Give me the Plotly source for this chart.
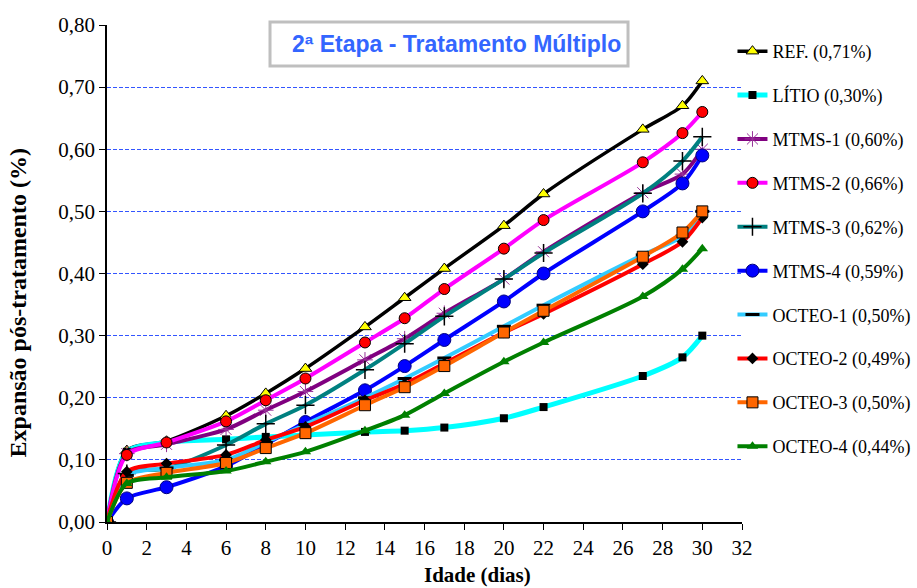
import plotly.graph_objects as go

# Ages (days) at which expansion was measured
idade = [0, 1, 3, 6, 8, 10, 13, 15, 17, 20, 22, 27, 29, 30]

# Post-treatment expansion (%) per treatment
ref    = [0, 0.115, 0.130, 0.171, 0.207, 0.247, 0.314, 0.361, 0.408, 0.477, 0.528, 0.632, 0.670, 0.71]
litio  = [0, 0.113, 0.128, 0.133, 0.137, 0.140, 0.145, 0.147, 0.152, 0.167, 0.185, 0.235, 0.265, 0.30]
mtms1  = [0, 0.110, 0.125, 0.149, 0.180, 0.210, 0.261, 0.295, 0.336, 0.391, 0.435, 0.530, 0.560, 0.60]
mtms2  = [0, 0.108, 0.128, 0.162, 0.196, 0.231, 0.289, 0.328, 0.375, 0.440, 0.486, 0.579, 0.626, 0.66]
mtms3  = [0, 0.078, 0.086, 0.124, 0.158, 0.188, 0.245, 0.287, 0.331, 0.391, 0.433, 0.529, 0.581, 0.62]
mtms4  = [0, 0.038, 0.056, 0.090, 0.125, 0.161, 0.212, 0.251, 0.293, 0.355, 0.400, 0.500, 0.545, 0.59]
octeo1 = [0, 0.075, 0.087, 0.100, 0.128, 0.157, 0.200, 0.231, 0.264, 0.315, 0.349, 0.430, 0.460, 0.50]
octeo2 = [0, 0.081, 0.094, 0.108, 0.132, 0.153, 0.196, 0.222, 0.255, 0.305, 0.335, 0.415, 0.451, 0.49]
octeo3 = [0, 0.063, 0.079, 0.095, 0.119, 0.143, 0.188, 0.217, 0.251, 0.305, 0.340, 0.427, 0.466, 0.50]
octeo4 = [0, 0.062, 0.072, 0.082, 0.097, 0.113, 0.147, 0.172, 0.207, 0.258, 0.289, 0.363, 0.407, 0.44]

nomes = ["REF. (0,71%)", "LÍTIO (0,30%)", "MTMS-1 (0,60%)", "MTMS-2 (0,66%)",
         "MTMS-3 (0,62%)", "MTMS-4 (0,59%)", "OCTEO-1 (0,50%)", "OCTEO-2 (0,49%)",
         "OCTEO-3 (0,50%)", "OCTEO-4 (0,44%)"]
series = [ref, litio, mtms1, mtms2, mtms3, mtms4, octeo1, octeo2, octeo3, octeo4]

# (line colour, line width, marker style)
estilos = [
    ("#000000", 3.5, dict(symbol="triangle-up", size=11, color="#FFFF00", line=dict(color="#000000", width=1))),
    ("#00FFFF", 5, dict(symbol="square", size=8, color="#000000", line=dict(color="#000000", width=0))),
    ("#800080", 4, dict(symbol="asterisk-open", size=13, color="#993399", line=dict(color="#993399", width=1))),
    ("#FF00FF", 4, dict(symbol="circle", size=11, color="#FF0000", line=dict(color="#000000", width=1))),
    ("#008080", 4, dict(symbol="cross-thin-open", size=13, color="#000000", line=dict(color="#000000", width=1.5))),
    ("#0000FF", 4, dict(symbol="circle", size=13, color="#0000FF", line=dict(color="#000080", width=1))),
    ("#33CCFF", 4, dict(symbol="line-ew-open", size=10, color="#000000", line=dict(color="#006666", width=3))),
    ("#FF0000", 4, dict(symbol="diamond", size=9, color="#000000", line=dict(color="#000000", width=0))),
    ("#FF6600", 4, dict(symbol="square", size=11, color="#FF6600", line=dict(color="#000000", width=1))),
    ("#008000", 4, dict(symbol="triangle-up", size=10, color="#008000", line=dict(color="#008000", width=0))),
]

fig = go.Figure()
for i, (nome, ys, (cor, larg, mk)) in enumerate(zip(nomes, series, estilos)):
    fig.add_trace(go.Scatter(
        x=idade, y=ys, name=nome, mode="lines+markers",
        line=dict(color=cor, width=larg, shape="spline", smoothing=0.8),
        marker=mk, legendgroup=f"g{i}",
    ))

serif = "Liberation Serif"

fig.update_layout(
    width=917, height=588,
    margin=dict(l=107, r=175, t=25, b=66, autoexpand=False),
    paper_bgcolor="white", plot_bgcolor="white",
    separators=",.",
    font=dict(family=serif, color="black", size=18),
    showlegend=True,
    legend=dict(
        x=0.985, xanchor="left", y=0.984, yanchor="top",
        font=dict(family=serif, size=18, color="black"),
        tracegroupgap=17.5, traceorder="grouped",
        bgcolor="rgba(0,0,0,0)", itemwidth=30,
    ),
    xaxis=dict(
        range=[0, 32], dtick=2, tick0=0,
        showline=True, linecolor="black", linewidth=1.5,
        ticks="outside", ticklen=6, tickcolor="black",
        showgrid=False, zeroline=False,
        tickfont=dict(family=serif, size=21),
    ),
    yaxis=dict(
        range=[0, 0.8], dtick=0.1, tick0=0, tickformat=".2f",
        showline=True, linecolor="black", linewidth=1.5,
        ticks="outside", ticklen=6, tickcolor="black",
        showgrid=True, gridcolor="#3355FF", gridwidth=1, griddash="4px,2px",
        zeroline=False,
        tickfont=dict(family=serif, size=21),
    ),
)

# Axis titles
fig.add_annotation(xref="paper", yref="paper", x=0.584, y=-0.106,
                   text="<b>Idade (dias)</b>", showarrow=False,
                   font=dict(family=serif, size=21, color="black"),
                   xanchor="center", yanchor="middle")
fig.add_annotation(xref="paper", yref="paper", x=-0.14, y=0.44,
                   text="<b>Expansão pós-tratamento (%)</b>", showarrow=False, textangle=-90,
                   font=dict(family=serif, size=24, color="black"),
                   xanchor="center", yanchor="middle")

# Title box inside the plot area
fig.add_shape(type="rect", xref="paper", yref="paper",
              x0=0.2567, x1=0.8205, y0=0.9175, y1=1.006,
              line=dict(color="#BFBFBF", width=3), fillcolor="white", layer="above")
fig.add_annotation(xref="paper", yref="paper", x=0.551, y=0.9615,
                   text="<b>2ª Etapa - Tratamento Múltiplo</b>", showarrow=False,
                   font=dict(family="Liberation Sans", size=23, color="#3366FF"),
                   xanchor="center", yanchor="middle")

fig.write_html("out.html")
